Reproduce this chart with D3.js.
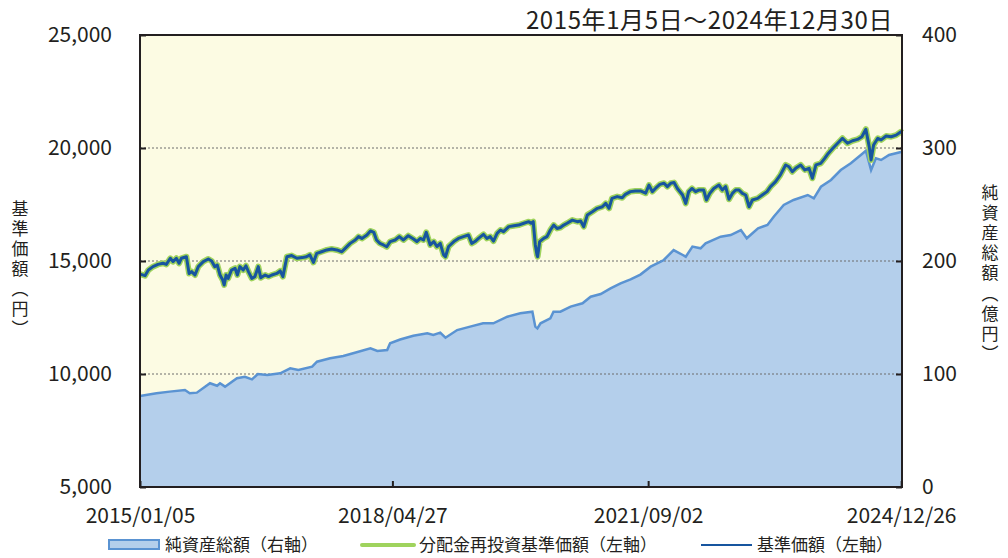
<!DOCTYPE html>
<html>
<head>
<meta charset="utf-8">
<script src="https://cdn.jsdelivr.net/npm/d3@7"></script>
<style>
  body { margin: 0; background: #fff; }
  text { font-family: "Noto Sans CJK JP", "Noto Sans", sans-serif; fill: #231f20; }
</style>
</head>
<body>
<div id="chart"></div>
<script>
// Data
var navDates = ["2015-01-05","2015-01-29","2015-02-14","2015-03-08","2015-04-01","2015-04-25","2015-05-11","2015-05-30","2015-06-12","2015-06-28","2015-07-11","2015-07-22","2015-08-15","2015-08-28","2015-09-09","2015-09-25","2015-10-11","2015-11-04","2015-11-28","2015-12-14","2015-12-29","2016-01-10","2016-01-23","2016-02-05","2016-02-12","2016-02-21","2016-03-02","2016-03-18","2016-04-04","2016-04-15","2016-04-27","2016-05-13","2016-05-26","2016-06-07","2016-06-23","2016-07-08","2016-07-24","2016-08-05","2016-08-26","2016-09-11","2016-09-27","2016-10-21","2016-11-06","2016-11-19","2016-12-08","2016-12-31","2017-01-25","2017-02-19","2017-03-12","2017-03-28","2017-04-14","2017-04-30","2017-05-23","2017-06-17","2017-07-10","2017-08-04","2017-08-28","2017-09-13","2017-10-07","2017-10-31","2017-11-16","2017-12-02","2017-12-26","2018-01-12","2018-01-28","2018-02-10","2018-02-26","2018-03-15","2018-03-31","2018-04-16","2018-05-10","2018-05-30",
  "2018-06-19","2018-07-12","2018-08-06","2018-08-22","2018-09-08","2018-09-23","2018-10-06","2018-10-25","2018-11-11","2018-11-26","2018-12-12","2018-12-28","2019-01-06","2019-01-21","2019-02-15","2019-03-09","2019-04-02","2019-04-26","2019-05-12","2019-05-27","2019-06-13","2019-07-07","2019-07-23","2019-08-08","2019-08-24","2019-09-10","2019-09-26","2019-10-11","2019-11-05","2019-11-29","2019-12-22","2020-01-16","2020-02-09","2020-02-20","2020-03-01","2020-03-11","2020-03-19","2020-03-22","2020-04-01","2020-04-20","2020-05-06","2020-05-22","2020-06-07","2020-06-23","2020-07-09","2020-07-25","2020-08-10","2020-09-04","2020-09-28","2020-10-14","2020-10-29","2020-11-15","2020-12-09","2021-01-02","2021-01-26","2021-02-11","2021-02-27","2021-03-13","2021-04-07","2021-05-01","2021-05-16","2021-06-09","2021-07-03","2021-07-27","2021-08-21","2021-09-06","2021-09-22","2021-10-08","2021-10-28",
  "2021-11-17","2021-12-03","2021-12-19","2022-01-04","2022-01-20","2022-02-14","2022-03-01","2022-03-15","2022-03-31","2022-04-17","2022-05-02","2022-05-26","2022-06-08","2022-06-24","2022-07-13","2022-08-07","2022-08-23","2022-09-08","2022-09-24","2022-10-10","2022-10-26","2022-11-11","2022-11-27","2022-12-13","2022-12-29","2023-01-14","2023-02-08","2023-03-02","2023-03-25","2023-04-11","2023-05-05","2023-05-28","2023-06-22","2023-07-08","2023-07-24","2023-08-09","2023-09-02","2023-09-22","2023-10-12","2023-10-28","2023-11-14","2023-12-07","2023-12-26","2024-01-12","2024-02-02","2024-02-26","2024-03-20","2024-04-13","2024-05-07","2024-05-31","2024-06-21","2024-07-10","2024-07-26","2024-08-04","2024-08-16","2024-09-05","2024-09-21","2024-10-15","2024-11-08","2024-12-02","2024-12-25","2024-12-30"];

// 基準価額 (left axis, yen)
var navValues = [14420,14350,14600,14750,14850,14900,14850,15120,14970,15120,14900,15120,15190,14450,14530,14380,14750,14970,15090,15000,14750,14820,14380,14160,13940,14380,14230,14600,14680,14380,14750,14600,14790,14530,14230,14310,14750,14260,14380,14310,14380,14450,14560,14310,15190,15240,15120,15150,15190,15270,14940,15340,15410,15490,15530,15490,15410,15560,15780,15930,16080,16000,16150,16330,16270,15930,15780,15710,15630,15860,15930,16080,
  15930,16120,15970,15860,16000,15930,16270,15710,15860,15640,15780,15270,15190,15640,15860,16000,16080,16150,15780,15860,16000,16180,16000,16080,15880,16220,16370,16300,16520,16560,16590,16670,16740,16670,16740,15710,15270,15190,15860,16000,16080,16370,16590,16440,16480,16590,16670,16810,16740,16770,16520,17040,17180,17330,17400,17550,17330,17770,17850,17800,17950,18070,18100,18100,18000,18360,18070,18220,18390,
  18440,18290,18440,18470,18210,17920,17550,18070,18210,18070,18140,18140,17700,17990,18210,18360,18140,18290,17730,17990,18140,18140,17990,17920,17400,17700,17770,17920,18070,18290,18510,18810,19250,19170,18950,19100,19250,19030,19100,18660,19250,19320,19540,19760,19980,20210,20430,20210,20320,20380,20500,20830,20060,19470,20130,20430,20360,20530,20500,20570,20720,20680];

// 分配金再投資基準価額 (left axis, yen) - no distributions, so it tracks the NAV
var reinvestValues = [14420,14350,14600,14750,14850,14900,14850,15120,14970,15120,14900,15120,15190,14450,14530,14380,14750,14970,15090,15000,14750,14820,14380,14160,13940,14380,14230,14600,14680,14380,14750,14600,14790,14530,14230,14310,14750,14260,14380,14310,14380,14450,14560,14310,15190,15240,15120,15150,15190,15270,14940,15340,15410,15490,15530,15490,15410,15560,15780,15930,16080,16000,16150,16330,16270,15930,15780,15710,15630,15860,15930,16080,
  15930,16120,15970,15860,16000,15930,16270,15710,15860,15640,15780,15270,15190,15640,15860,16000,16080,16150,15780,15860,16000,16180,16000,16080,15880,16220,16370,16300,16520,16560,16590,16670,16740,16670,16740,15710,15270,15190,15860,16000,16080,16370,16590,16440,16480,16590,16670,16810,16740,16770,16520,17040,17180,17330,17400,17550,17330,17770,17850,17800,17950,18070,18100,18100,18000,18360,18070,18220,18390,
  18440,18290,18440,18470,18210,17920,17550,18070,18210,18070,18140,18140,17700,17990,18210,18360,18140,18290,17730,17990,18140,18140,17990,17920,17400,17700,17770,17920,18070,18290,18510,18810,19250,19170,18950,19100,19250,19030,19100,18660,19250,19320,19540,19760,19980,20210,20430,20210,20320,20380,20500,20830,20060,19470,20130,20430,20360,20530,20500,20570,20720,20680];

var assetDates = ["2015-01-05","2015-03-25","2015-05-27","2015-08-08","2015-08-31","2015-10-04","2015-12-06","2016-01-09","2016-01-23","2016-02-16","2016-04-13","2016-05-21","2016-06-24","2016-07-22","2016-09-05","2016-11-06","2016-12-24","2017-02-01","2017-04-08","2017-05-01","2017-07-03","2017-09-04","2017-10-21","2018-01-12","2018-02-14","2018-04-02","2018-04-16","2018-06-03","2018-08-05","2018-10-11","2018-11-09","2018-12-12","2019-01-06","2019-03-03","2019-05-04","2019-07-05","2019-08-23","2019-10-29","2019-12-30","2020-02-26","2020-03-11","2020-03-21","2020-04-05","2020-05-22","2020-06-06","2020-07-09","2020-08-27","2020-10-23","2020-12-01","2021-01-18","2021-03-06","2021-04-23","2021-06-10","2021-07-27","2021-09-14","2021-11-01","2021-11-16","2022-01-02","2022-02-15","2022-03-01","2022-04-02","2022-05-11","2022-06-04","2022-08-15","2022-10-02","2022-11-20","2022-12-18","2023-02-10","2023-03-27","2023-04-26","2023-06-13","2023-07-30","2023-10-06","2023-11-04","2023-12-08","2024-01-25","2024-03-12","2024-04-29","2024-06-16","2024-07-10","2024-08-04","2024-08-27","2024-09-21","2024-10-29","2024-12-30"];

// 純資産総額 (right axis, 億円)
var assetValues = [80.5,82.9,84.4,85.8,82.9,83.5,91.8,89.6,91.8,88.8,96.2,97.6,95.3,100,99.1,100.6,105,103.5,106.5,110.9,113.9,115.9,118.3,122.7,120.4,121.2,127.2,130.5,133.9,136,134.5,136.6,132.1,138.9,141.9,144.9,144.9,150.7,153.7,155.1,141.9,140.4,144.9,149.3,155.1,155.1,159.6,162.6,168.4,170.8,175.8,180.2,183.8,188,195,199.4,200.9,209.7,205.3,203.8,212.7,211.2,215.7,221.5,223,227.4,220.1,229,231.9,239.2,249.6,254,258.4,255.5,265.7,271.7,280.5,286.5,293.8,297.6,280.5,290.9,289.4,293.8,296.7];

var xTickDates = ["2015-01-05","2018-04-27","2021-09-02","2024-12-26"];
var leftTicks = [5000,10000,15000,20000,25000];
var rightTicks = [0,100,200,300,400];
var gridTicks = [10000,15000,20000];

var width = 1008;
var height = 558;
var margin = { top: 35, right: 106, bottom: 71, left: 140 };
var parse = d3.timeParse("%Y-%m-%d");
var fmt = d3.timeFormat("%Y/%m/%d");

var svg = d3.select("#chart")
    .append("svg")
    .attr("width", width)
    .attr("height", height);

var x = d3.scaleTime()
    .domain([parse("2015-01-05"), parse("2024-12-30")])
    .range([margin.left, width - margin.right]);

var yL = d3.scaleLinear()
    .domain([5000, 25000])
    .range([height - margin.bottom, margin.top]);

var yR = d3.scaleLinear()
    .domain([0, 400])
    .range([height - margin.bottom, margin.top]);

var nav = navDates.map(function(d, i) { return { date: parse(d), v: navValues[i], r: reinvestValues[i] }; });
var assets = assetDates.map(function(d, i) { return { date: parse(d), v: assetValues[i] }; });

// Plot background
svg.append("rect")
    .attr("x", margin.left)
    .attr("y", margin.top)
    .attr("width", width - margin.left - margin.right)
    .attr("height", height - margin.top - margin.bottom)
    .attr("fill", "#fcfbe3");

// Net assets area
svg.append("path")
    .datum(assets)
    .attr("fill", "#b4cfeb")
    .attr("d", d3.area()
        .x(function(d) { return x(d.date); })
        .y0(yR(0))
        .y1(function(d) { return yR(d.v); }));

// Gridlines
svg.selectAll(".grid")
    .data(gridTicks)
    .enter().append("line")
    .attr("x1", margin.left)
    .attr("x2", width - margin.right)
    .attr("y1", function(d) { return yL(d); })
    .attr("y2", function(d) { return yL(d); })
    .attr("stroke", "#6d6d6d")
    .attr("stroke-width", 1)
    .attr("stroke-dasharray", "2,2");

svg.append("path")
    .datum(assets)
    .attr("fill", "none")
    .attr("stroke", "#5a93d2")
    .attr("stroke-width", 2.5)
    .attr("d", d3.line()
        .x(function(d) { return x(d.date); })
        .y(function(d) { return yR(d.v); }));

// Reinvested NAV (green, drawn under NAV)
svg.append("path")
    .datum(nav)
    .attr("fill", "none")
    .attr("stroke", "#9fd35d")
    .attr("stroke-width", 6)
    .attr("stroke-linejoin", "round")
    .attr("d", d3.line()
        .x(function(d) { return x(d.date); })
        .y(function(d) { return yL(d.r); }));

// NAV (dark blue)
svg.append("path")
    .datum(nav)
    .attr("fill", "none")
    .attr("stroke", "#17559f")
    .attr("stroke-width", 3)
    .attr("stroke-linejoin", "round")
    .attr("d", d3.line()
        .x(function(d) { return x(d.date); })
        .y(function(d) { return yL(d.v); }));

// Frame
svg.append("rect")
    .attr("x", margin.left)
    .attr("y", margin.top)
    .attr("width", width - margin.left - margin.right)
    .attr("height", height - margin.top - margin.bottom)
    .attr("fill", "none")
    .attr("stroke", "#231f20")
    .attr("stroke-width", 2);

// Left axis (ticks inward)
var leftAxis = svg.append("g")
    .attr("transform", "translate(" + margin.left + ",0)")
    .call(d3.axisRight(yL).tickValues(leftTicks).tickSize(6).tickFormat(d3.format(",")));
leftAxis.select(".domain").remove();
leftAxis.selectAll("line").attr("stroke", "#231f20").attr("stroke-width", 2);
leftAxis.selectAll("text")
    .attr("x", -28)
    .attr("text-anchor", "end")
    .style("font-size", "21px");

// Right axis (ticks inward)
var rightAxis = svg.append("g")
    .attr("transform", "translate(" + (width - margin.right) + ",0)")
    .call(d3.axisLeft(yR).tickValues(rightTicks).tickSize(6));
rightAxis.select(".domain").remove();
rightAxis.selectAll("line").attr("stroke", "#231f20").attr("stroke-width", 2);
rightAxis.selectAll("text")
    .attr("x", 20)
    .attr("text-anchor", "start")
    .style("font-size", "21px");

// Bottom axis (ticks inward)
var bottomAxis = svg.append("g")
    .attr("transform", "translate(0," + (height - margin.bottom) + ")")
    .call(d3.axisTop(x).tickValues(xTickDates.map(parse)).tickSize(6).tickFormat(fmt));
bottomAxis.select(".domain").remove();
bottomAxis.selectAll("line").attr("stroke", "#231f20").attr("stroke-width", 2);
bottomAxis.selectAll("text")
    .attr("y", 36)
    .attr("dy", 0)
    .style("font-size", "21px");

// Period title
svg.append("text")
    .attr("x", 893)
    .attr("y", 29)
    .attr("text-anchor", "end")
    .style("font-size", "24px")
    .style("letter-spacing", "0.6px")
    .text("2015年1月5日～2024年12月30日");

// Vertical axis titles
function verticalTitle(str, cx, top, len) {
    svg.append("text")
        .attr("x", cx)
        .attr("y", top)
        .attr("textLength", len)
        .attr("lengthAdjust", "spacing")
        .style("writing-mode", "vertical-rl")
        .style("text-orientation", "upright")
        .style("font-size", "17px")
        .text(str);
}
verticalTitle("基準価額（円）", 20, 200, 137);
verticalTitle("純資産総額（億円）", 990, 184, 178);

// Legend
var legendY = 545;
svg.append("rect")
    .attr("x", 109).attr("y", legendY - 5)
    .attr("width", 50).attr("height", 9)
    .attr("fill", "#b4cfeb")
    .attr("stroke", "#5a93d2")
    .attr("stroke-width", 2);
svg.append("text")
    .attr("x", 165).attr("y", legendY + 6)
    .style("font-size", "17px")
    .text("純資産総額（右軸）");

svg.append("line")
    .attr("x1", 362).attr("x2", 414)
    .attr("y1", legendY).attr("y2", legendY)
    .attr("stroke", "#9fd35d")
    .attr("stroke-width", 4)
    .attr("stroke-linecap", "round");
svg.append("text")
    .attr("x", 419).attr("y", legendY + 6)
    .style("font-size", "17px")
    .text("分配金再投資基準価額（左軸）");

svg.append("line")
    .attr("x1", 701).attr("x2", 752)
    .attr("y1", legendY).attr("y2", legendY)
    .attr("stroke", "#17559f")
    .attr("stroke-width", 2);
svg.append("text")
    .attr("x", 757).attr("y", legendY + 6)
    .style("font-size", "17px")
    .text("基準価額（左軸）");
</script>
</body>
</html>
